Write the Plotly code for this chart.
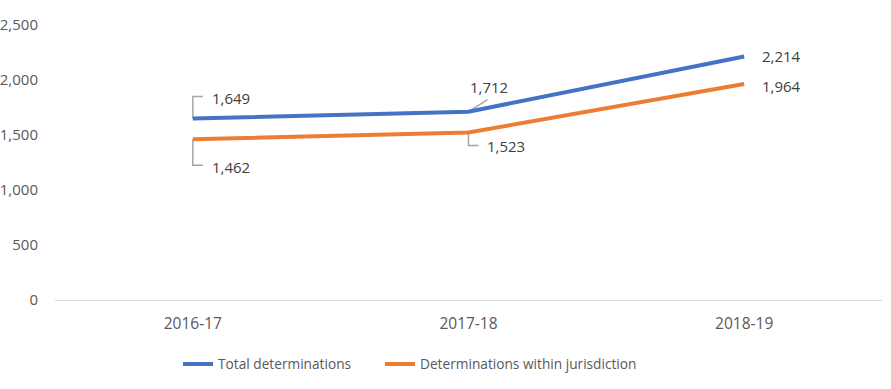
import plotly.graph_objects as go

categories = ["2016-17", "2017-18", "2018-19"]
total = [1649, 1712, 2214]
within = [1462, 1523, 1964]
total_labels = ["1,649", "1,712", "2,214"]
within_labels = ["1,462", "1,523", "1,964"]
y_ticks = [0, 500, 1000, 1500, 2000, 2500]
y_tick_text = ["0", "500", "1,000", "1,500", "2,000", "2,500"]

BLUE = "#4472C4"
ORANGE = "#ED7D31"
GREY_TXT = "#595959"
LEADER = "#A6A6A6"
FONT = "Open Sans"

W, H = 891, 389

fig = go.Figure()
fig.add_trace(go.Scatter(x=list(range(len(categories))), y=total, mode="lines",
                         name="Total determinations", legend="legend",
                         line=dict(color=BLUE, width=4)))
fig.add_trace(go.Scatter(x=list(range(len(categories))), y=within, mode="lines",
                         name="Determinations within jurisdiction", legend="legend2",
                         line=dict(color=ORANGE, width=4)))

# label offsets (pixels) and leader paths (pixels relative to the point)
total_off = [(38, 21), (20, 25), (37, 0)]
within_off = [(38, -28), (37, -14), (37, -2)]
total_paths = ["M0,0 L0,22 L10,22", "M0,0 L19,12", None]
within_paths = ["M0,0 L0,-26 L10,-26", "M0,0 L0,-13 L10,-13", None]

for i in range(len(categories)):
    for vals, labs, offs, paths in ((total, total_labels, total_off, total_paths),
                                    (within, within_labels, within_off, within_paths)):
        fig.add_annotation(x=i, y=vals[i], xref="x", yref="y", text=labs[i],
                           showarrow=False, xshift=offs[i][0], yshift=offs[i][1],
                           font=dict(family=FONT, size=15, color="#404040"))
        if paths[i]:
            fig.add_shape(type="path", xref="x", yref="y",
                          xsizemode="pixel", ysizemode="pixel",
                          xanchor=i, yanchor=vals[i], path=paths[i],
                          line=dict(color=LEADER, width=1.5), layer="below")

leg_common = dict(orientation="h", xref="container", yref="container",
                  xanchor="left", yanchor="middle", y=1 - 364 / H,
                  font=dict(family=FONT, size=13.7, color=GREY_TXT),
                  itemwidth=30, bgcolor="rgba(0,0,0,0)")

fig.update_layout(
    width=W, height=H,
    margin=dict(l=55, r=9, t=25, b=89, autoexpand=False),
    paper_bgcolor="white", plot_bgcolor="white",
    showlegend=True,
    legend=dict(x=178 / W, **leg_common),
    legend2=dict(x=380 / W, **leg_common),
    font=dict(family=FONT, size=14, color=GREY_TXT),
)
fig.update_xaxes(range=[-0.5, 2.5], tickvals=list(range(len(categories))),
                 ticktext=categories, showgrid=False, zeroline=False,
                 showline=False, ticks="", ticklabelstandoff=12, automargin=False,
                 tickfont=dict(family=FONT, size=15.5, color=GREY_TXT))
fig.update_yaxes(range=[0, 2500], tickvals=y_ticks, ticktext=y_tick_text,
                 showgrid=False, zeroline=True, zerolinecolor="#D9D9D9", zerolinewidth=1,
                 showline=False, ticks="", ticklabelstandoff=16, automargin=False,
                 tickfont=dict(family=FONT, size=15, color=GREY_TXT))

fig.write_html("out.html", config={"displayModeBar": False},
               post_script="document.body.style.margin='0px';document.body.style.overflow='hidden';")
